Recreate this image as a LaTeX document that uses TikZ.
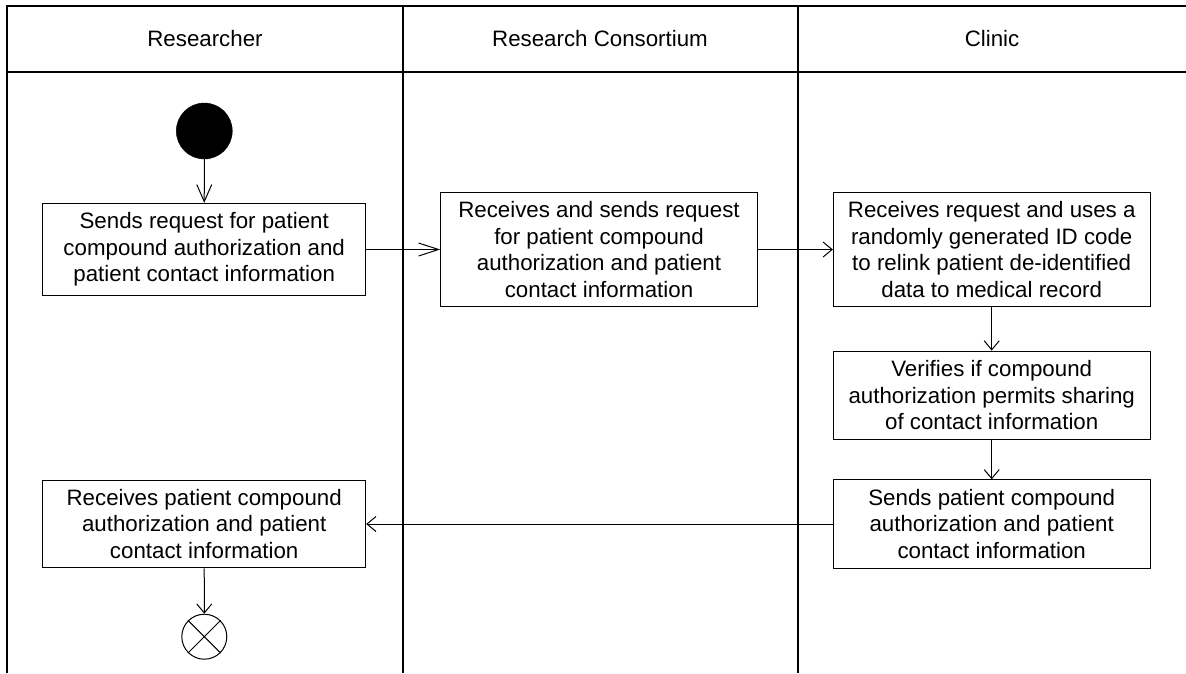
\documentclass[tikz,border=0pt]{standalone}
\usepackage{fontspec}
\setmainfont{Liberation Sans}
\usetikzlibrary{arrows.meta}
\begin{document}
\begin{tikzpicture}[x=1pt,y=-1pt,
  frameline/.style={line width=1.2pt},
  actbox/.style={draw, line width=1pt, rectangle, inner sep=0pt, align=center,
    font=\fontsize{22.3}{26.7}\selectfont},
  lanehead/.style={inner sep=0pt, font=\fontsize{22.3}{26.7}\selectfont},
  flow/.style={line width=1pt, -{Straight Barb[length=9pt,width=15pt]}},
]
\useasboundingbox (0,0) rectangle (1186,673);
% swimlane frame
\draw[frameline] (7,673) -- (7,6) -- (1186,6);
\draw[frameline] (7,72) -- (1186,72);
\draw[frameline] (403,6) -- (403,673);
\draw[frameline] (798,6) -- (798,673);
\node[lanehead] (h1) at (205,39) {Researcher};
\node[lanehead] (h2) at (600,39) {Research Consortium};
\node[lanehead] (h3) at (992,39) {Clinic};

% start / end
\node[circle, fill=black, draw=black, minimum size=56pt, inner sep=0pt] (start) at (204.3,131) {};
\node[circle, draw=black, line width=1pt, minimum size=45pt, inner sep=0pt] (end) at (204.3,636.7) {};
\draw[line width=1pt] (end.45) -- (end.225) (end.135) -- (end.315);

% activities
\node[actbox, minimum width=323pt, minimum height=92.4pt] (b1) at (204.2,249.5)
  {Sends request for patient\\compound authorization and\\patient contact information};
\node[actbox, minimum width=316.6pt, minimum height=114.4pt] (b2) at (599,249.5)
  {Receives and sends request\\for patient compound\\authorization and patient\\contact information};
\node[actbox, minimum width=316.7pt, minimum height=114.4pt] (b3) at (991.7,249.5)
  {Receives request and uses a\\randomly generated ID code\\to relink patient de-identified\\data to medical record};
\node[actbox, minimum width=316.7pt, minimum height=88.3pt] (b4) at (991.7,395.2)
  {Verifies if compound\\authorization permits sharing\\of contact information};
\node[actbox, minimum width=316.7pt, minimum height=88.3pt] (b5) at (991.7,524)
  {Sends patient compound\\authorization and patient\\contact information};
\node[actbox, minimum width=323pt, minimum height=87.7pt] (b6) at (204.2,524)
  {Receives patient compound\\authorization and patient\\contact information};

% connectors
\draw[line width=1pt, -{Straight Barb[length=17pt,width=15pt]}] (start) -- (b1);
\draw[line width=1pt, -{Straight Barb[length=20pt,width=13pt]}] (b1) -- (b2);
\draw[flow] (b2) -- (b3);
\draw[flow] (b3) -- (b4);
\draw[flow] (b4) -- (b5);
\draw[flow] (b5) -- (b6);
\draw[flow] (b6) -- (end);
\end{tikzpicture}
\end{document}
